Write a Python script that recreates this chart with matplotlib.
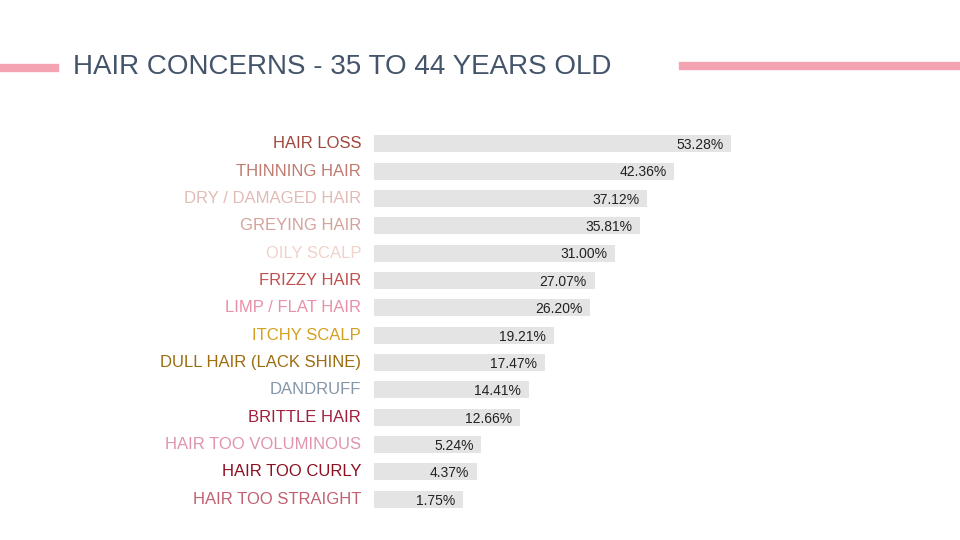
import matplotlib
matplotlib.use("Agg")
import matplotlib.pyplot as plt

plt.rcParams["font.family"] = "Liberation Sans"

categories = ["HAIR LOSS", "THINNING HAIR", "DRY / DAMAGED HAIR", "GREYING HAIR",
              "OILY SCALP", "FRIZZY HAIR", "LIMP / FLAT HAIR", "ITCHY SCALP",
              "DULL HAIR (LACK SHINE)", "DANDRUFF", "BRITTLE HAIR",
              "HAIR TOO VOLUMINOUS", "HAIR TOO CURLY", "HAIR TOO STRAIGHT"]
values = [53.28, 42.36, 37.12, 35.81, 31.00, 27.07, 26.20, 19.21,
          17.47, 14.41, 12.66, 5.24, 4.37, 1.75]
label_colors = ["#a0463a", "#c07a70", "#e0bcb4", "#d4a29c", "#f0d2ca", "#c0504d",
                "#e890a8", "#d4a020", "#9c6c10", "#8496a8", "#a0203c",
                "#e094ac", "#8b1020", "#c06070"]

pad = 15.4  # room for the value label at the end of each bar

fig = plt.figure(figsize=(9.6, 5.4), dpi=100)
fig.patch.set_facecolor("white")

# title and decorative lines
fig.add_artist(plt.Line2D([0, 55 / 960], [1 - 68 / 540] * 2, color="#f4a3b3", lw=6))
fig.add_artist(plt.Line2D([683 / 960, 1], [1 - 66 / 540] * 2, color="#f4a3b3", lw=6))
fig.text(73 / 960, 1 - 67 / 540, "HAIR CONCERNS - 35 TO 44 YEARS OLD",
         fontsize=20, color="#44546a", va="center", ha="left")

ax = fig.add_axes([374 / 960, 1 - 513 / 540, 576 / 960, 383 / 540])
n = len(categories)
ypos = list(range(n))
ax.barh(ypos, [v + pad for v in values], height=0.62, color="#e4e4e4")
for y, v, c, col in zip(ypos, values, categories, label_colors):
    ax.text(v + pad - 1.5, y + 0.05, f"{v:.2f}%", ha="right", va="center",
            fontsize=10, color="#222222")
    ax.text(-2.5, y, c, ha="right", va="center", fontsize=12, color=col)
ax.set_xlim(0, 110.8)
ax.set_ylim(n - 0.5, -0.5)
ax.axis("off")

fig.savefig("out.png", dpi=100)
